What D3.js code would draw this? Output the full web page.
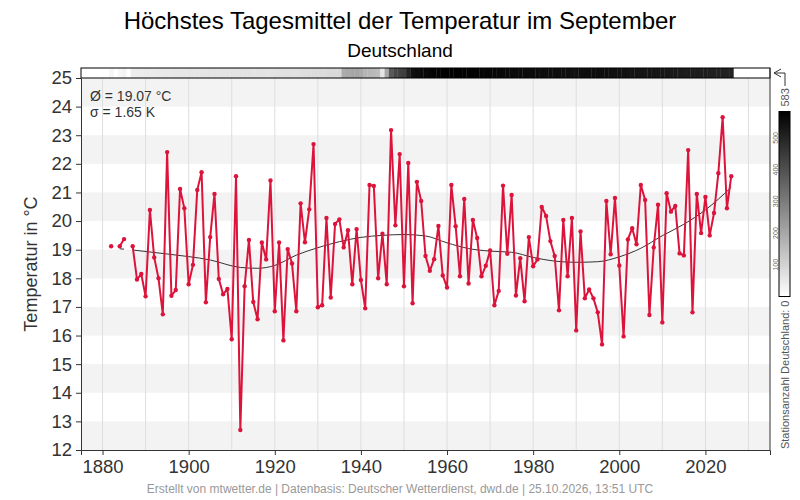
<!DOCTYPE html>
<html>
<head>
<meta charset="utf-8">
<script src="https://cdn.jsdelivr.net/npm/d3@7"></script>
<style>
  body { margin: 0; background: #fff; }
  svg { font-family: "Liberation Sans", Arial, sans-serif; }
</style>
</head>
<body>
<div id="chart"></div>
<script>
// Höchstes Tagesmittel (°C), September, 1881..2026 (null = kein Wert)
const firstYear = 1881;
const tmax = [
  null, 19.12, null, 19.12, 19.37, null, 19.12, 17.96, 18.15, 17.37,
  20.39, 18.73, 18.00, 16.74, 22.41, 17.39, 17.59, 21.12, 20.45, 17.79,
  18.47, 21.09, 21.71, 17.16, 19.44, 20.95, 17.98, 17.44, 17.63, 15.87,
  21.57, 12.70, 17.72, 19.34, 17.17, 16.57, 19.25, 18.66, 21.42, 16.85,
  19.25, 15.83, 19.02, 18.52, 16.85, 20.62, 19.26, 20.41, 22.69, 16.99,
  17.06, 20.11, 17.33, 19.90, 20.06, 19.08, 19.68, 17.79, 19.72, 17.94,
  16.95, 21.26, 21.23, 18.00, 19.56, 17.79, 23.18, 19.85, 22.34, 17.72,
  22.03, 17.13, 21.37, 20.70, 18.78, 18.26, 18.67, 19.83, 18.10, 17.68,
  21.26, 19.82, 18.07, 20.77, 17.82, 20.04, 19.41, 18.07, 18.44, 18.97,
  17.06, 17.56, 21.24, 18.86, 20.91, 17.40, 18.70, 17.20, 19.44, 18.42,
  18.66, 20.49, 20.18, 19.30, 18.78, 16.88, 20.04, 18.07, 20.11, 16.18,
  19.64, 17.30, 17.61, 17.30, 16.81, 15.69, 20.70, 18.84, 20.81, 18.45,
  15.97, 19.36, 19.75, 19.19, 21.26, 20.74, 16.72, 19.08, 20.57, 16.46,
  20.97, 20.33, 20.53, 18.87, 18.80, 22.48, 16.81, 20.95, 19.58, 20.84,
  19.50, 20.28, 21.67, 23.63, 20.45, 21.57
];

// Stationsanzahl je Jahr, 1881..2026
const stations = [
  0, 20, 0, 15, 25, 0, 40, 42, 44, 45,
  46, 48, 50, 50, 52, 52, 54, 55, 56, 58,
  58, 60, 60, 60, 62, 62, 62, 64, 64, 64,
  65, 66, 66, 66, 65, 64, 64, 64, 65, 66,
  68, 70, 70, 72, 72, 74, 76, 78, 80, 80,
  82, 84, 86, 88, 90, 190, 200, 205, 205, 195,
  170, 165, 160, 150, 60, 200, 380, 420, 430, 440,
  500, 545, 555, 560, 565, 570, 575, 575, 578, 580,
  580, 583, 580, 578, 575, 575, 575, 572, 570, 570,
  568, 565, 565, 562, 560, 560, 558, 556, 555, 555,
  555, 552, 552, 550, 550, 550, 548, 548, 545, 545,
  548, 550, 552, 552, 552, 550, 550, 548, 548, 545,
  545, 542, 540, 540, 538, 535, 535, 532, 530, 530,
  528, 525, 525, 522, 520, 520, 518, 518, 515, 515,
  512, 512, 510, 510, 508, 505
];
const maxStations = 583;

// geglätteter Verlauf (Stützstellen)
const trendSegments = [
  { years: [1884, 1885], values: [19.03, 19.02] },
  { years: [1887, 1895, 1905, 1912, 1916, 1920, 1925, 1930, 1935, 1940, 1945, 1950, 1955,
            1960, 1965, 1970, 1975, 1980, 1985, 1990, 1995, 2000, 2005, 2010, 2015, 2020, 2026],
    values: [18.99, 18.85, 18.64, 18.38, 18.35, 18.45, 18.81, 19.07, 19.28, 19.43, 19.50, 19.53, 19.48,
             19.24, 19.04, 18.95, 18.91, 18.73, 18.60, 18.56, 18.58, 18.75, 19.05, 19.49, 19.89, 20.39, 21.18] }
];

const yTicks = d3.range(12, 26);
const xTicks = [1880, 1900, 1920, 1940, 1960, 1980, 2000, 2020];
const gridYears = d3.range(1880, 2031, 10);
const legendTicks = [100, 200, 300, 400, 500];

const title = 'Höchstes Tagesmittel der Temperatur im September';
const subtitle = 'Deutschland';
const statsLines = ['Ø = 19.07 °C', 'σ = 1.65 K'];
const footer = 'Erstellt von mtwetter.de | Datenbasis: Deutscher Wetterdienst, dwd.de | 25.10.2026, 13:51 UTC';

const width = 800, height = 500;
const plotLeft = 81, plotRight = 770, plotTop = 78, plotBottom = 450;
const stripTop = 68;

const svg = d3.select('#chart').append('svg')
  .attr('width', width)
  .attr('height', height);

const x = d3.scaleLinear().domain([1875, 2035]).range([plotLeft, plotRight]);
const y = d3.scaleLinear().domain([12, 25]).range([plotBottom, plotTop]);
const gray = d3.scaleLinear().domain([0, maxStations]).range(['#ffffff', '#000000']);

const data = tmax.map((t, i) => ({ year: firstYear + i, t: t, n: stations[i] }));

// alternierende Bänder
svg.append('g')
  .selectAll('rect')
  .data(yTicks.filter(v => v < 25 && v % 2 === 0))
  .join('rect')
  .attr('x', plotLeft)
  .attr('width', plotRight - plotLeft)
  .attr('y', d => y(d + 1))
  .attr('height', d => y(d) - y(d + 1))
  .attr('fill', '#f3f3f3');

// vertikale Gitterlinien
svg.append('g')
  .selectAll('line')
  .data(gridYears)
  .join('line')
  .attr('x1', d => x(d)).attr('x2', d => x(d))
  .attr('y1', plotTop).attr('y2', plotBottom)
  .attr('stroke', '#dedede')
  .attr('stroke-width', 1);

// Stationsstreifen
svg.append('g')
  .selectAll('rect')
  .data(data.filter(d => d.n > 0))
  .join('rect')
  .attr('x', d => x(d.year - 0.5))
  .attr('width', d => x(d.year + 0.5) - x(d.year - 0.5) + 0.3)
  .attr('y', stripTop)
  .attr('height', plotTop - stripTop)
  .attr('fill', d => gray(d.n));

svg.append('rect')
  .attr('x', plotLeft).attr('y', stripTop)
  .attr('width', plotRight - plotLeft).attr('height', plotTop - stripTop)
  .attr('fill', 'none')
  .attr('stroke', '#000')
  .attr('stroke-width', 1);

// Trend
const trendLine = d3.line()
  .x(d => x(d[0]))
  .y(d => y(d[1]))
  .curve(d3.curveMonotoneX);

svg.append('g')
  .selectAll('path')
  .data(trendSegments)
  .join('path')
  .attr('d', s => trendLine(s.years.map((yr, i) => [yr, s.values[i]])))
  .attr('fill', 'none')
  .attr('stroke', '#333')
  .attr('stroke-width', 1);

// Messwerte
const line = d3.line()
  .defined(d => d.t !== null)
  .x(d => x(d.year))
  .y(d => y(d.t));

svg.append('path')
  .datum(data)
  .attr('d', line)
  .attr('fill', 'none')
  .attr('stroke', '#dc143c')
  .attr('stroke-width', 2)
  .attr('stroke-linejoin', 'round');

svg.append('g')
  .selectAll('circle')
  .data(data.filter(d => d.t !== null))
  .join('circle')
  .attr('cx', d => x(d.year))
  .attr('cy', d => y(d.t))
  .attr('r', 2.2)
  .attr('fill', '#dc143c');

// Achsen
const yAxis = svg.append('g')
  .attr('transform', `translate(${plotLeft},0)`)
  .call(d3.axisLeft(y).tickValues(yTicks).tickSize(5).tickPadding(4));

const xAxis = svg.append('g')
  .attr('transform', `translate(0,${plotBottom})`)
  .call(d3.axisBottom(x).tickValues(xTicks).tickFormat(d3.format('d')).tickSize(5).tickPadding(5));

[yAxis, xAxis].forEach(ax => {
  ax.select('.domain').attr('stroke', '#333');
  ax.selectAll('.tick line').attr('stroke', '#333');
  ax.selectAll('.tick text')
    .attr('fill', '#333')
    .style('font-size', '18.5px')
    .style('font-family', '"Liberation Sans", Arial, sans-serif');
});

svg.append('line')
  .attr('x1', plotRight).attr('x2', plotRight)
  .attr('y1', stripTop).attr('y2', plotBottom)
  .attr('stroke', '#333');

// Texte
svg.append('text')
  .attr('x', width / 2).attr('y', 28.5)
  .attr('text-anchor', 'middle')
  .style('font-size', '24px')
  .attr('fill', '#000')
  .text(title);

svg.append('text')
  .attr('x', width / 2).attr('y', 56.5)
  .attr('text-anchor', 'middle')
  .style('font-size', '19px')
  .attr('fill', '#000')
  .text(subtitle);

svg.append('text')
  .attr('transform', `translate(37,${(plotTop + plotBottom) / 2}) rotate(-90)`)
  .attr('text-anchor', 'middle')
  .style('font-size', '18px')
  .attr('fill', '#333')
  .text('Temperatur in °C');

svg.append('g')
  .selectAll('text')
  .data(statsLines)
  .join('text')
  .attr('x', 90)
  .attr('y', (d, i) => 101 + i * 15.5)
  .style('font-size', '14px')
  .attr('fill', '#333')
  .text(d => d);

svg.append('text')
  .attr('x', width / 2).attr('y', 493)
  .attr('text-anchor', 'middle')
  .style('font-size', '12px')
  .attr('fill', '#999')
  .text(footer);

// Legende Stationsanzahl
const legTop = 111.5, legBottom = 296.5, legX = 779, legW = 11;
const legend = d3.scaleLinear().domain([0, maxStations]).range([legBottom, legTop]);

const grad = svg.append('defs').append('linearGradient')
  .attr('id', 'stgrad')
  .attr('x1', 0).attr('y1', 1).attr('x2', 0).attr('y2', 0);
grad.append('stop').attr('offset', 0).attr('stop-color', gray(0));
grad.append('stop').attr('offset', 1).attr('stop-color', gray(maxStations));

svg.append('rect')
  .attr('x', legX).attr('y', legTop)
  .attr('width', legW).attr('height', legBottom - legTop)
  .attr('fill', 'url(#stgrad)')
  .attr('stroke', '#000')
  .attr('stroke-width', 1);

svg.append('g')
  .selectAll('text')
  .data(legendTicks)
  .join('text')
  .attr('transform', d => `translate(778,${legend(d)}) rotate(-90)`)
  .attr('text-anchor', 'middle')
  .style('font-size', '7px')
  .attr('fill', '#666')
  .text(d => d);

svg.append('text')
  .attr('transform', `translate(789,${legTop - 5}) rotate(-90)`)
  .attr('text-anchor', 'start')
  .style('font-size', '11px')
  .attr('fill', '#555')
  .text(maxStations);

svg.append('text')
  .attr('transform', `translate(789,${legBottom + 4}) rotate(-90)`)
  .attr('text-anchor', 'end')
  .style('font-size', '11px')
  .attr('fill', '#555')
  .text('Stationsanzahl Deutschland: 0');

// Pfeil vom Streifen zur Legende
svg.append('path')
  .attr('d', `M${plotRight + 4},${stripTop + 5} H${785} V${86}`)
  .attr('fill', 'none')
  .attr('stroke', '#333');
svg.append('path')
  .attr('d', `M${plotRight + 11},${stripTop + 1} L${plotRight + 4},${stripTop + 5} L${plotRight + 11},${stripTop + 9}`)
  .attr('fill', 'none')
  .attr('stroke', '#333');
</script>
</body>
</html>
